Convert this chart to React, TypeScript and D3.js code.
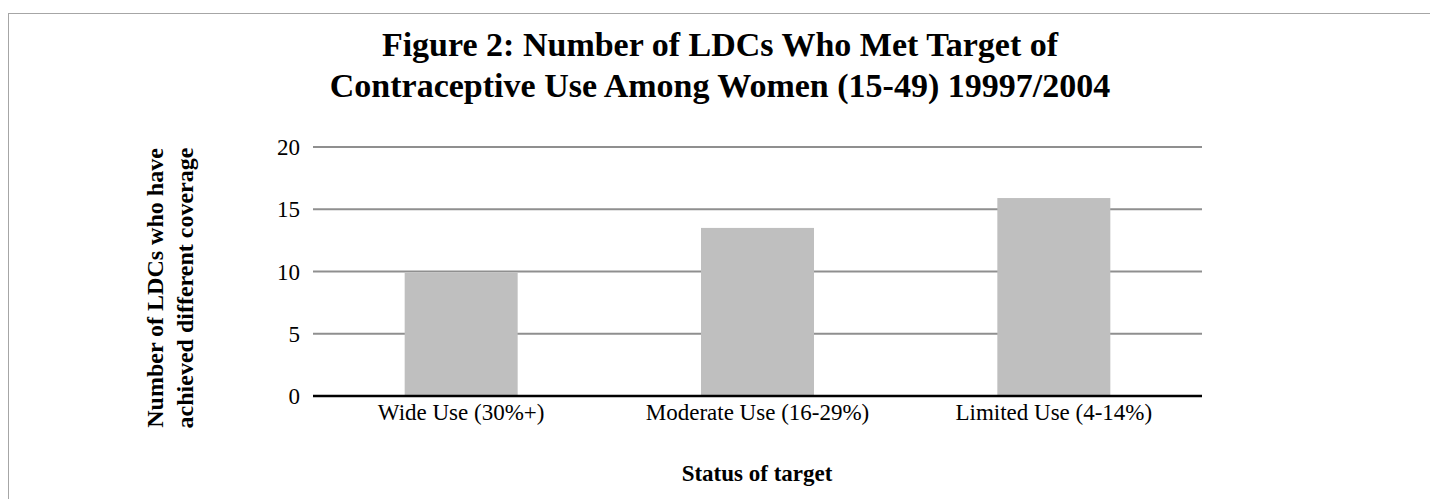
import React from "react";
import * as d3 from "d3";

const titleLines = [
  "Figure 2: Number of LDCs Who Met Target of",
  "Contraceptive Use Among Women (15-49) 19997/2004",
];
const categories = ["Wide Use (30%+)", "Moderate Use (16-29%)", "Limited Use (4-14%)"];
const values = [9.9, 13.5, 15.9];
const yTicks = [0, 5, 10, 15, 20];
const yLabelLines = ["Number of LDCs who have", "achieved different coverage"];
const xTitle = "Status of target";

export default function App() {
  const W = 1430;
  const H = 499;
  const left = 313;
  const right = 1202;
  const top = 147;
  const bottom = 396;
  const font = "'Liberation Serif', 'Times New Roman', serif";

  const x = d3.scaleBand<string>().domain(categories).range([left, right]);
  const y = d3.scaleLinear().domain([0, 20]).range([bottom, top]);
  const barW = 113;

  return (
    <svg
      width={W}
      height={H}
      style={{ position: "absolute", left: 0, top: 0, display: "block" }}
      fontFamily={font}
    >
      <rect x={0} y={0} width={W} height={H} fill="#fff" />
      <rect x={8.5} y={13.5} width={W} height={H} fill="none" stroke="#a6a6a6" strokeWidth={1} />
      {titleLines.map((t, i) => (
        <text
          key={t}
          x={720}
          y={56 + i * 41}
          textAnchor="middle"
          fontSize={34}
          fontWeight="bold"
          fill="#000"
        >
          {t}
        </text>
      ))}
      {yTicks.filter((t) => t > 0).map((t) => (
        <line key={t} x1={left} x2={right} y1={y(t)} y2={y(t)} stroke="#8f8f8f" strokeWidth={2} />
      ))}
      {categories.map((c, i) => (
        <rect
          key={c}
          x={(x(c) as number) + x.bandwidth() / 2 - barW / 2}
          y={y(values[i])}
          width={barW}
          height={y(0) - y(values[i])}
          fill="#bfbfbf"
        />
      ))}
      <line x1={left} x2={right} y1={y(0)} y2={y(0)} stroke="#000" strokeWidth={2.5} />
      {yTicks.map((t) => (
        <text key={t} x={300} y={y(t) + 8} textAnchor="end" fontSize={23} fill="#000">
          {t}
        </text>
      ))}
      {categories.map((c) => (
        <text
          key={c}
          x={(x(c) as number) + x.bandwidth() / 2}
          y={420}
          textAnchor="middle"
          fontSize={23}
          fill="#000"
        >
          {c}
        </text>
      ))}
      <text x={757} y={481} textAnchor="middle" fontSize={23} fontWeight="bold" fill="#000">
        {xTitle}
      </text>
      {yLabelLines.map((t, i) => (
        <text
          key={t}
          transform={`translate(${163 + i * 30},288) rotate(-90)`}
          textAnchor="middle"
          fontSize={24}
          fontWeight="bold"
          fill="#000"
        >
          {t}
        </text>
      ))}
    </svg>
  );
}
